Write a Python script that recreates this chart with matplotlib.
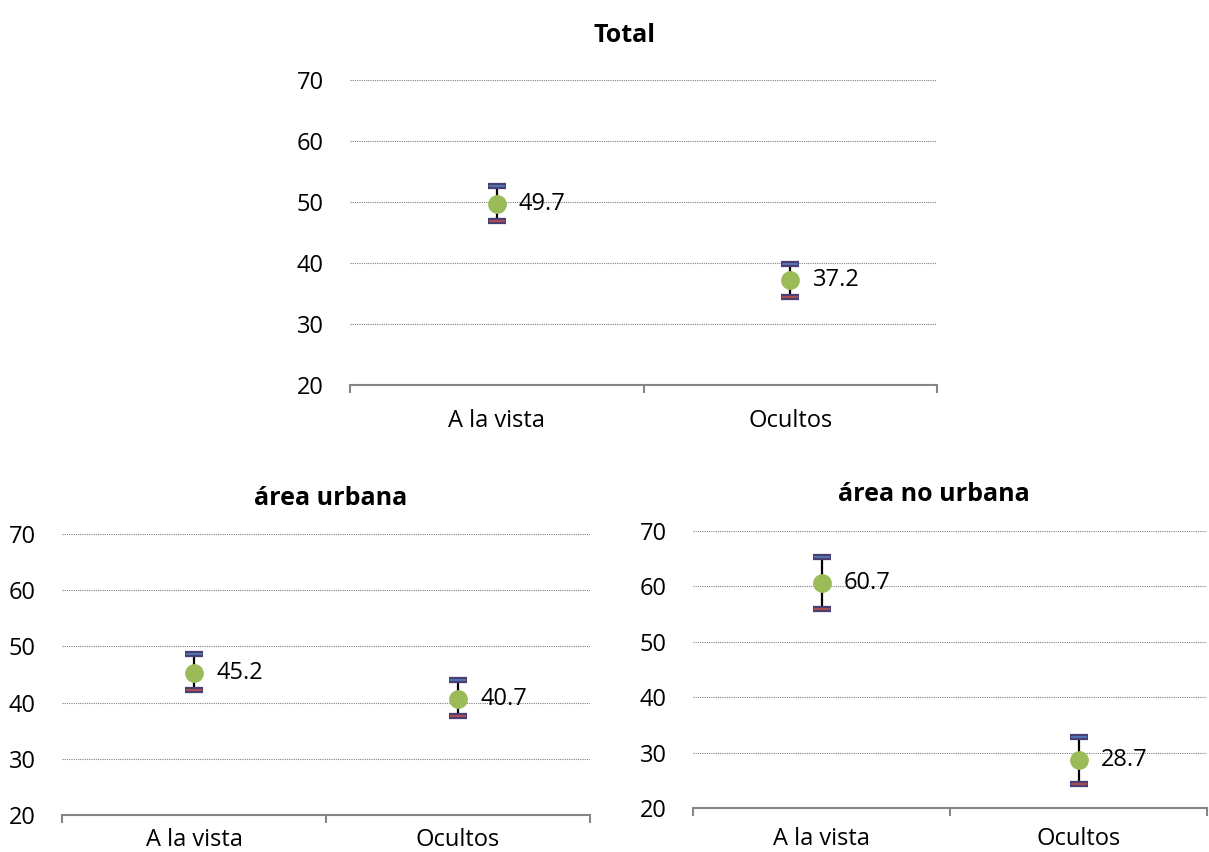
import matplotlib
matplotlib.use("Agg")
import matplotlib.pyplot as plt

plt.rcParams['font.family'] = ['Open Sans', 'DejaVu Sans']

categories = ["A la vista", "Ocultos"]
titles = ["Total", "área urbana", "área no urbana"]
values_total = [49.7, 37.2]
err_lo_total = [2.8, 2.7]
err_hi_total = [2.9, 2.6]
values_urb = [45.2, 40.7]
err_lo_urb = [3.0, 3.0]
err_hi_urb = [3.5, 3.4]
values_nourb = [60.7, 28.7]
err_lo_nourb = [4.8, 4.4]
err_hi_nourb = [4.6, 4.1]
yticks = [20, 30, 40, 50, 60, 70]

fig = plt.figure(figsize=(12.09, 8.52), dpi=100)
rects = [
    [350/1209, 1-385/852, 587/1209, 305/852],
    [62/1209, 1-815/852, 528/1209, 281/852],
    [693/1209, 1-808/852, 514/1209, 277/852],
]
title_pads = [27, 21, 21.5]
title_x = [0.468, 0.508, 0.469]
xlabel_pads = [17, 9, 14]
series = [
    (values_total, err_lo_total, err_hi_total),
    (values_urb, err_lo_urb, err_hi_urb),
    (values_nourb, err_lo_nourb, err_hi_nourb),
]
green = "#9BBB59"
FS = 17
for i, (rect, title, (vals, lo, hi)) in enumerate(zip(rects, titles, series)):
    ax = fig.add_axes(rect)
    x = list(range(len(categories)))
    ax.errorbar(x, vals, yerr=[lo, hi], fmt='none', ecolor='black', elinewidth=1.6,
                capsize=0, zorder=3)
    for xi, v, l, h in zip(x, vals, lo, hi):
        for yy, inner in ((v - l, "#C0504D"), (v + h, "#4F81BD")):
            ax.plot([xi], [yy], marker='_', markersize=13, mew=4.5, color="#4B3F72",
                    zorder=4, linestyle='none')
            ax.plot([xi], [yy], marker='_', markersize=11, mew=1.2, color=inner,
                    zorder=5, linestyle='none')
    ax.plot(x, vals, 'o', color=green, markersize=12.5, zorder=6, linestyle='none')
    for xi, v in zip(x, vals):
        ax.annotate(f"{v:.1f}", (xi, v), xytext=(16, 0), textcoords='offset points',
                    va='center', ha='left', fontsize=FS, zorder=7)
    ax.set_xlim(-0.5, 1.5)
    ax.set_ylim(20, 70)
    ax.set_yticks(yticks)
    ax.set_yticklabels([str(t) for t in yticks], fontsize=FS)
    ax.yaxis.grid(True, linestyle=(0, (1, 1)), color='#808080', linewidth=0.8)
    ax.set_axisbelow(True)
    ax.tick_params(axis='y', length=0, pad=19)
    ax.set_xticks(x)
    ax.set_xticklabels(categories, fontsize=FS)
    ax.set_xticks([-0.5, 0.5, 1.5], minor=True)
    ax.tick_params(axis='x', which='major', length=0, pad=xlabel_pads[i])
    ax.tick_params(axis='x', which='minor', length=6, color='#868686', width=1.5, direction='out')
    for s in ['top', 'right', 'left']:
        ax.spines[s].set_visible(False)
    ax.spines['bottom'].set_color('#868686')
    ax.spines['bottom'].set_linewidth(1.5)
    ax.set_title(title, fontsize=18, fontweight='bold', pad=title_pads[i], x=title_x[i])

fig.savefig("out.png", dpi=100)
